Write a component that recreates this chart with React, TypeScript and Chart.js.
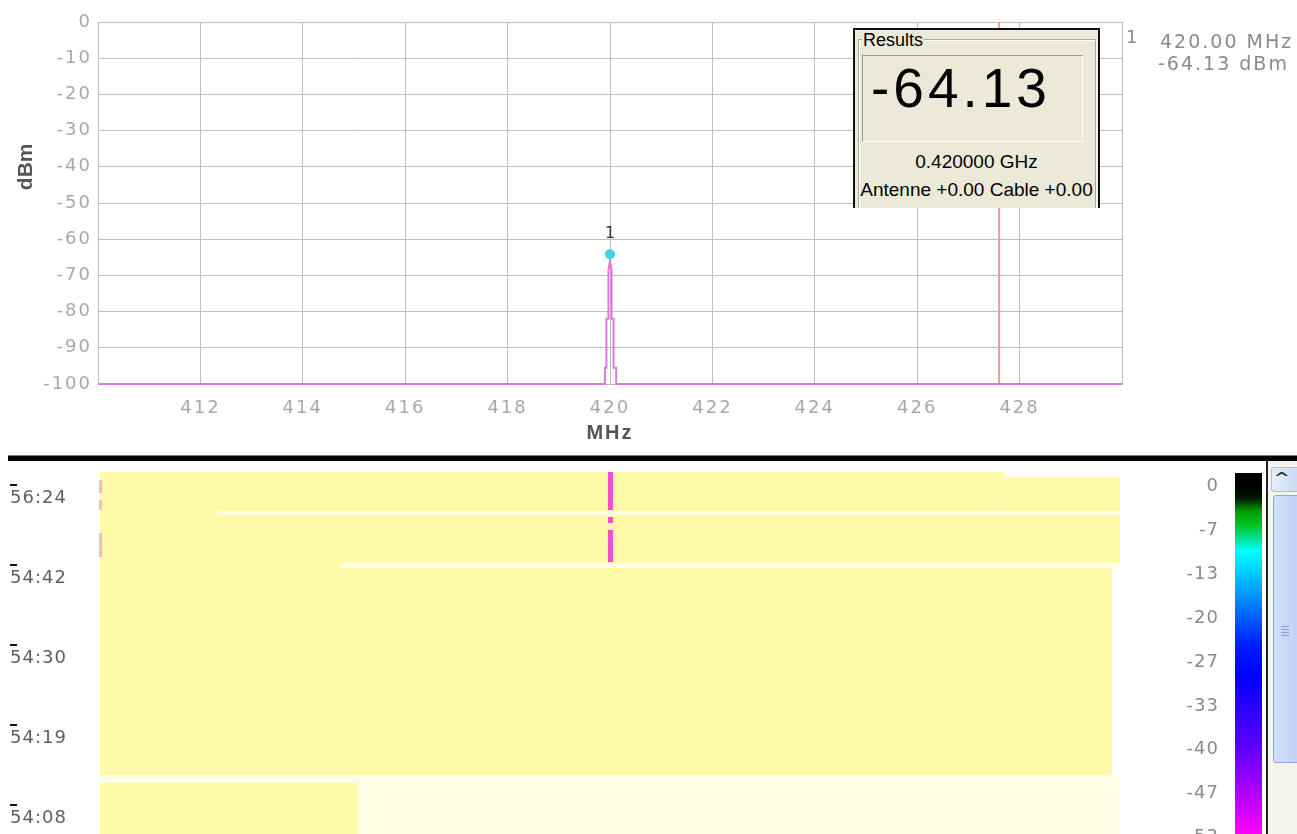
import React, { useEffect, useRef } from "react";
import { Chart, registerables } from "chart.js";

Chart.register(...registerables);

// ---------- Spectrum (top) ----------
const traceFreq = [410, 419.9, 419.9, 419.93, 419.93, 419.97, 419.97, 420.0, 420.03, 420.03, 420.07, 420.07, 420.12, 420.12, 430];
const traceLevel = [-100, -100, -95.5, -95.5, -82, -82, -68.5, -66, -68.5, -82, -82, -95.5, -95.5, -100, -100];
const markerFreq = [420.0];
const markerLevel = [-64.13];
const markerNames = ["1"];
const cursorFreq = [427.6];
const freqMin = 410;
const freqMax = 430;
const freqStep = 2;
const levelMin = -100;
const levelMax = 0;
const levelStep = 10;

// ---------- Waterfall (bottom) ----------
const timeTickRows = [0, 20, 40, 60, 80];
const timeLabels = ["56:24", "54:42", "54:30", "54:19", "54:08"];
const rowMin = -3.75;
const rowMax = 87.25;
// cells: frequency start/end (MHz), scan row start/end, level (dBm, null = empty scan)
const cellF0 = [410.04, 427.7, 410.04, 412.34, 410.04, 410.04, 414.73, 410.04, 410.04, 410.04, 415.08, 419.96, 419.96, 419.96, 410.02, 410.02, 410.02];
const cellF1 = [427.7, 429.96, 412.34, 429.96, 429.96, 414.73, 429.96, 429.8, 429.96, 415.08, 429.96, 420.06, 420.06, 420.06, 410.08, 410.08, 410.08];
const cellR0 = [-3.25, -2, 6.5, 6.5, 7.5, 19.5, 19.5, 20.75, 72.5, 74.5, 74.5, -3.25, 8, 11.25, -1.25, 3.75, 12];
const cellR1 = [6.5, 6.5, 7.5, 7.5, 19.5, 20.75, 20.75, 72.5, 74.5, 87.25, 87.25, 6.25, 9.5, 19.25, 2, 6.25, 18];
const cellLevel: (number | null)[] = [-100, -100, -100, null, -100, -100, null, -100, null, -100, null, -64, -64, -64, -85, -85, -85];

// colour map
const cmapLevels = [0, -2, -4, -6, -10, -16, -24, -29, -40, -53, -64, -85, -100];
const cmapColors = ["#000000", "#001800", "#00a000", "#00c020", "#00ffff", "#00a0ff", "#0020ff", "#0000ff", "#6000ff", "#ff00ff", "#f050d0", "#f0c0b8", "#fffaa8"];
const colorbarLabels = ["0", "-7", "-13", "-20", "-27", "-33", "-40", "-47", "-53"];

function hexToRgb(h: string) {
  const n = parseInt(h.slice(1), 16);
  return [(n >> 16) & 255, (n >> 8) & 255, n & 255];
}
function levelColor(l: number | null) {
  if (l === null) return "#fffde6";
  if (l >= cmapLevels[0]) return cmapColors[0];
  for (let i = 0; i < cmapLevels.length - 1; i++) {
    const a = cmapLevels[i], b = cmapLevels[i + 1];
    if (l <= a && l >= b) {
      const t = (a - l) / (a - b);
      const c0 = hexToRgb(cmapColors[i]), c1 = hexToRgb(cmapColors[i + 1]);
      const c = c0.map((v, k) => Math.round(v + (c1[k] - v) * t));
      return `rgb(${c[0]},${c[1]},${c[2]})`;
    }
  }
  return cmapColors[cmapColors.length - 1];
}

const TICK_FONT = { family: "'DejaVu Sans'", size: 18 };

const topDecor = {
  id: "topDecor",
  beforeDraw(chart: any) {
    chart.ctx.letterSpacing = "2px";
  },
  afterDatasetsDraw(chart: any) {
    const { ctx, scales } = chart;
    const x = scales.x, y = scales.y;
    ctx.save();
    ctx.letterSpacing = "0px";
    ctx.font = "16px 'DejaVu Sans'";
    ctx.fillStyle = "#333";
    ctx.textAlign = "center";
    ctx.textBaseline = "middle";
    markerFreq.forEach((f, i) => {
      ctx.fillText(markerNames[i], x.getPixelForValue(f), y.getPixelForValue(markerLevel[i]) - 20);
    });
    ctx.translate(26, y.getPixelForValue(-40));
    ctx.rotate(-Math.PI / 2);
    ctx.font = "bold 21px 'Liberation Sans'";
    ctx.fillStyle = "#555";
    ctx.fillText("dBm", 0, 0);
    ctx.restore();
  },
};

const wfDecor = {
  id: "wfDecor",
  beforeDraw(chart: any) {
    chart.ctx.letterSpacing = "1px";
  },
  beforeDatasetsDraw(chart: any) {
    const { ctx, chartArea, scales } = chart;
    const x = scales.x, y = scales.y;
    ctx.save();
    ctx.beginPath();
    ctx.rect(chartArea.left, chartArea.top, chartArea.width, chartArea.height);
    ctx.clip();
    for (let i = 0; i < cellF0.length; i++) {
      const x0 = x.getPixelForValue(cellF0[i]);
      const x1 = x.getPixelForValue(cellF1[i]);
      const y0 = y.getPixelForValue(cellR0[i]);
      const y1 = y.getPixelForValue(cellR1[i]);
      ctx.fillStyle = levelColor(cellLevel[i]);
      ctx.fillRect(x0, y0, x1 - x0, y1 - y0);
    }
    ctx.restore();
  },
  afterDraw(chart: any) {
    const { ctx, scales } = chart;
    const y = scales.y;
    ctx.save();
    ctx.fillStyle = "#111";
    timeTickRows.forEach((r) => {
      const p = y.getPixelForValue(r);
      ctx.fillRect(10, Math.round(p) - 1, 7, 2);
    });
    ctx.restore();
  },
};

export default function App() {
  const topRef = useRef<HTMLCanvasElement>(null);
  const wfRef = useRef<HTMLCanvasElement>(null);

  useEffect(() => {
    const trace = traceFreq.map((f, i) => ({ x: f, y: traceLevel[i] }));
    const markers = markerFreq.map((f, i) => ({ x: f, y: markerLevel[i] }));
    const cursor = cursorFreq.flatMap((f) => [{ x: f, y: levelMax }, { x: f, y: levelMin }]);

    const top = new Chart(topRef.current!, {
      type: "scatter",
      data: {
        datasets: [
          { data: markers, pointRadius: 5, pointBackgroundColor: "#3fd5e5", pointBorderWidth: 0, showLine: false },
          { data: trace, showLine: true, borderColor: "#dd78dd", borderWidth: 2, pointRadius: 0, fill: false, clip: false },
          { data: cursor, showLine: true, borderColor: "#ef9a9a", borderWidth: 2, pointRadius: 0, fill: false },
        ],
      },
      options: {
        responsive: false,
        animation: false,
        events: [],
        layout: { padding: { top: 22, right: 175, left: 0, bottom: 0 } },
        plugins: { legend: { display: false }, tooltip: { enabled: false } },
        scales: {
          x: {
            type: "linear",
            min: freqMin,
            max: freqMax,
            grid: { color: "#bdbdbd", lineWidth: 1, drawTicks: false },
            border: { display: true, color: "#bdbdbd" },
            ticks: {
              stepSize: freqStep,
              autoSkip: false,
              maxRotation: 0,
              padding: 14,
              color: "#a8a8a8",
              font: TICK_FONT,
              callback: (v: any) => (v === freqMin || v === freqMax ? "" : String(v)),
            },
            title: { display: true, text: "MHz", color: "#555", font: { family: "'Liberation Sans'", size: 20, weight: "bold" }, padding: { top: 0, bottom: 10 } },
            afterFit: (s: any) => {
              s.height = 71;
              s.paddingLeft = 0;
              s.paddingRight = 0;
            },
          },
          y: {
            type: "linear",
            min: levelMin,
            max: levelMax,
            grid: { color: "#bdbdbd", lineWidth: 1, drawTicks: false },
            border: { display: true, color: "#bdbdbd" },
            ticks: { stepSize: levelStep, padding: 6, color: "#a8a8a8", font: TICK_FONT },
            afterFit: (s: any) => {
              s.width = 98;
              s.paddingTop = 0;
              s.paddingBottom = 0;
            },
          },
        },
      },
      plugins: [topDecor],
    } as any);

    const wf = new Chart(wfRef.current!, {
      type: "scatter",
      data: { datasets: [{ data: [], pointRadius: 0 }] },
      options: {
        responsive: false,
        animation: false,
        events: [],
        layout: { padding: { top: 8, right: 175, left: 10, bottom: 0 } },
        plugins: { legend: { display: false }, tooltip: { enabled: false } },
        scales: {
          x: { type: "linear", min: freqMin, max: freqMax, display: false },
          y: {
            type: "linear",
            reverse: true,
            min: rowMin,
            max: rowMax,
            grid: { display: false },
            border: { display: false },
            afterBuildTicks: (s: any) => {
              s.ticks = timeTickRows.map((v) => ({ value: v }));
            },
            ticks: {
              crossAlign: "far",
              labelOffset: 13,
              padding: 0,
              autoSkip: false,
              color: "#606060",
              font: TICK_FONT,
              callback: (_v: any, i: number) => timeLabels[i],
            },
            afterFit: (s: any) => {
              s.width = 88;
              s.paddingTop = 0;
              s.paddingBottom = 0;
            },
          },
        },
      },
      plugins: [wfDecor],
    } as any);

    return () => {
      top.destroy();
      wf.destroy();
    };
  }, []);

  // colour bar gradient built from the colour map
  const cbTop = 473;
  const cbHeight = 361;
  const pxPerDb = 6.6;
  const zeroY = 485;
  const stops = ["#000000 0%"];
  cmapLevels.forEach((l, i) => {
    if (l >= -60) {
      const pct = ((zeroY - cbTop + -l * pxPerDb) / cbHeight) * 100;
      stops.push(`${cmapColors[i]} ${pct.toFixed(2)}%`);
    }
  });
  const cbGradient = `linear-gradient(to bottom, ${stops.join(", ")})`;
  const cbSpacing = 43.9;

  const gray = "#8a8a8a";

  return (
    <div style={{ position: "fixed", left: 0, top: 0, width: 1297, height: 834, overflow: "hidden", background: "#fff", fontFamily: "'DejaVu Sans', sans-serif" }}>
      <canvas ref={topRef} width={1297} height={455} style={{ position: "absolute", left: 0, top: 0 }} />
      <canvas ref={wfRef} width={1297} height={372} style={{ position: "absolute", left: 0, top: 462 }} />

      {/* Results box */}
      <div style={{ position: "absolute", left: 853, top: 28, width: 247, height: 180, overflow: "hidden", background: "#ece9d8", borderLeft: "2px solid #111", borderRight: "2px solid #111", borderTop: "2px solid #111", boxSizing: "border-box", fontFamily: "'Liberation Sans', Arial, sans-serif", color: "#000" }}>
        <div style={{ position: "absolute", left: 3, top: 9, right: 2, height: 200, border: "1px solid #aca899", boxShadow: "inset 1px 1px 0 #fff, 1px 1px 0 #fff" }} />
        <div style={{ position: "absolute", left: 7, top: 0, fontSize: 18, lineHeight: "20px", background: "#ece9d8", padding: "0 1px" }}>Results</div>
        <div style={{ position: "absolute", left: 7, top: 25, width: 221, height: 87, boxSizing: "border-box", borderTop: "1px solid #9d9a8b", borderLeft: "1px solid #9d9a8b", borderRight: "1px solid #fff", borderBottom: "1px solid #fff" }} />
        <div style={{ position: "absolute", left: 16, top: 31, fontSize: 55, lineHeight: "55px", letterSpacing: 4, whiteSpace: "nowrap" }}>-64.13</div>
        <div style={{ position: "absolute", left: -4, right: -4, top: 122, fontSize: 19, lineHeight: "19px", textAlign: "center", whiteSpace: "nowrap" }}>0.420000 GHz</div>
        <div style={{ position: "absolute", left: -4, right: -4, top: 150, fontSize: 19, lineHeight: "19px", textAlign: "center", whiteSpace: "nowrap" }}>Antenne +0.00 Cable +0.00</div>
      </div>

      {/* marker readout */}
      <div style={{ position: "absolute", left: 1126, top: 27, fontSize: 18, lineHeight: "20px", color: gray }}>1</div>
      <div style={{ position: "absolute", left: 1160, top: 31, fontSize: 19, lineHeight: "20px", letterSpacing: 2, color: gray, whiteSpace: "nowrap" }}>420.00 MHz</div>
      <div style={{ position: "absolute", left: 1158, top: 53, fontSize: 19, lineHeight: "20px", letterSpacing: 2, color: gray, whiteSpace: "nowrap" }}>-64.13 dBm</div>

      {/* separator */}
      <div style={{ position: "absolute", left: 8, right: 0, top: 455, height: 1, background: "#777" }} />
      <div style={{ position: "absolute", left: 8, right: 0, top: 456, height: 5, background: "#000" }} />

      {/* colour bar */}
      <div style={{ position: "absolute", left: 1235, top: cbTop, width: 27, height: cbHeight, background: cbGradient }} />
      {colorbarLabels.map((t, i) => (
        <div key={t} style={{ position: "absolute", left: 1140, width: 79, top: zeroY + i * cbSpacing - 10, fontSize: 18, lineHeight: "20px", letterSpacing: 1, color: gray, textAlign: "right" }}>{t}</div>
      ))}

      {/* scrollbar */}
      <div style={{ position: "absolute", left: 1266, top: 461, width: 2, height: 373, background: "#222" }} />
      <div style={{ position: "absolute", left: 1268, top: 461, width: 29, height: 373, background: "#f4f3ee" }} />
      <div style={{ position: "absolute", left: 1271, top: 467, width: 30, height: 25, boxSizing: "border-box", background: "linear-gradient(to right, #e6eefc, #c9d8f6)", border: "1px solid #a9bde6", borderRadius: 3 }} />
      <div style={{ position: "absolute", left: 1276, top: 472, width: 12, height: 10, fontSize: 14, lineHeight: "12px", fontWeight: "bold", color: "#334", transform: "scaleX(1.4)" }}>^</div>
      <div style={{ position: "absolute", left: 1273, top: 495, width: 30, height: 268, boxSizing: "border-box", background: "linear-gradient(to right, #d3e0fa, #bccff5)", border: "1px solid #8fa7de", borderRadius: 3 }} />
      {[0, 1, 2, 3].map((k) => (
        <div key={k} style={{ position: "absolute", left: 1281, top: 626 + k * 3, width: 8, height: 1, background: "#8aa0d8" }} />
      ))}
    </div>
  );
}
